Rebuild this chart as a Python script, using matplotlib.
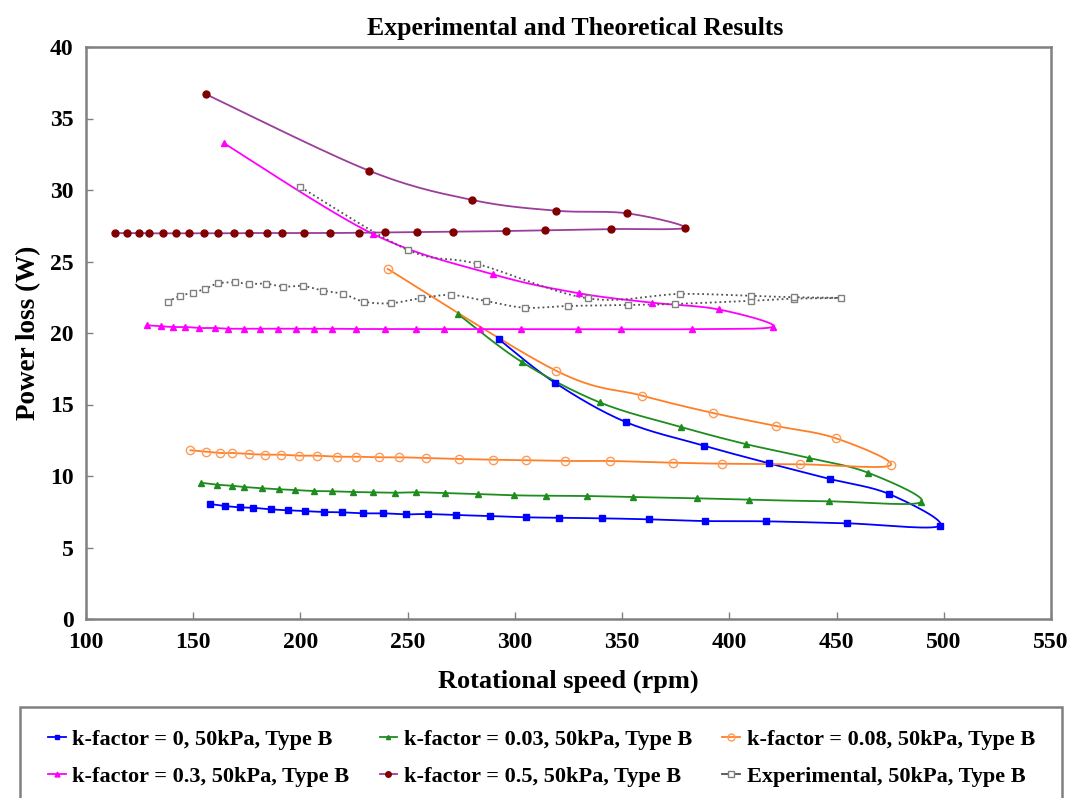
import numpy as np
import matplotlib
matplotlib.use("Agg")
import matplotlib.pyplot as plt
from matplotlib.lines import Line2D
from matplotlib.patches import Rectangle

plt.rcParams['font.family'] = ['Liberation Serif', 'DejaVu Serif']
plt.rcParams['font.weight'] = 'bold'

# ---- data (rotational speed in rpm, power loss in W); each series is a loop:
# lower branch (increasing speed) then upper branch (decreasing speed)
k0_x = [157.7, 164.8, 171.8, 177.8, 186.1, 194.2, 201.9, 211.0, 219.4, 229.4, 238.7, 249.4,
        259.4, 272.4, 288.6, 305.4, 320.6, 340.4, 362.6, 388.6, 417.0, 455.1, 498.2,
        474.5, 446.9, 418.4, 388.2, 351.6, 318.7, 292.6]
k0_y = [8.04, 7.90, 7.81, 7.78, 7.67, 7.60, 7.55, 7.48, 7.46, 7.39, 7.39, 7.32,
        7.34, 7.27, 7.20, 7.11, 7.08, 7.04, 6.97, 6.85, 6.83, 6.69, 6.52,
        8.74, 9.79, 10.89, 12.12, 13.78, 16.52, 19.56]

k003_x = [153.6, 161.1, 168.1, 173.9, 182.3, 190.0, 197.5, 206.3, 214.7, 224.7, 233.9, 244.1,
          254.1, 267.2, 282.8, 299.5, 314.7, 333.5, 355.1, 385.0, 409.1, 446.4, 489.6,
          464.7, 437.2, 408.0, 377.4, 339.5, 303.5, 273.7]
k003_y = [9.53, 9.39, 9.32, 9.23, 9.14, 9.07, 9.02, 8.95, 8.93, 8.88, 8.86, 8.83,
          8.86, 8.81, 8.74, 8.65, 8.62, 8.60, 8.53, 8.44, 8.34, 8.23, 8.18,
          10.23, 11.26, 12.22, 13.43, 15.15, 17.95, 21.30]

k008_x = [148.7, 155.8, 162.4, 168.3, 176.0, 183.7, 190.8, 199.3, 207.6, 217.1, 226.1, 236.4,
          246.0, 258.6, 273.8, 289.8, 305.1, 323.3, 344.3, 373.5, 396.8, 432.9, 475.2,
          449.7, 421.7, 392.2, 359.3, 319.1, 240.7]
k008_y = [11.80, 11.70, 11.61, 11.61, 11.54, 11.49, 11.49, 11.42, 11.42, 11.35, 11.35, 11.31,
          11.31, 11.26, 11.19, 11.14, 11.10, 11.05, 11.05, 10.93, 10.86, 10.82, 10.75,
          12.64, 13.50, 14.41, 15.62, 17.37, 24.48]

k03_x = [128.6, 134.8, 140.8, 146.0, 152.9, 160.0, 166.1, 173.9, 181.2, 189.6, 197.7, 206.3,
         214.7, 225.8, 239.5, 254.1, 266.8, 283.6, 302.8, 329.5, 349.5, 382.8, 420.5,
         395.0, 364.0, 329.8, 289.8, 233.9, 164.4]
k03_y = [20.54, 20.47, 20.42, 20.42, 20.35, 20.35, 20.30, 20.30, 20.30, 20.30, 20.30, 20.30,
         20.30, 20.28, 20.28, 20.27, 20.27, 20.27, 20.27, 20.27, 20.27, 20.27, 20.45,
         21.65, 22.12, 22.78, 24.10, 26.92, 33.27]

k05_x = [113.4, 119.3, 124.9, 129.4, 136.1, 142.2, 147.8, 154.8, 161.4, 169.0, 176.2, 184.3,
         191.4, 201.7, 214.0, 227.3, 239.2, 254.2, 271.2, 295.8, 313.9, 344.6, 379.2,
         352.3, 319.4, 280.2, 232.0, 155.8]
k05_y = [26.99, 26.99, 26.99, 26.97, 26.97, 26.97, 26.97, 26.97, 26.97, 26.97, 26.99, 26.99,
         26.99, 26.99, 26.99, 27.01, 27.03, 27.06, 27.08, 27.13, 27.18, 27.27, 27.36,
         28.37, 28.55, 29.30, 31.35, 36.71]

exp_x = [138.2, 143.7, 149.9, 155.4, 161.6, 169.4, 176.0, 184.1, 191.9, 201.2, 210.5, 219.9,
         229.7, 242.1, 256.0, 270.4, 286.4, 304.6, 324.8, 352.8, 374.6, 410.0, 430.0, 452.0,
         430.0, 410.0, 376.9, 334.1, 282.4, 250.2, 199.7]
exp_y = [22.19, 22.59, 22.82, 23.08, 23.47, 23.54, 23.43, 23.45, 23.24, 23.29, 22.96, 22.73,
         22.19, 22.08, 22.43, 22.66, 22.24, 21.77, 21.89, 21.96, 22.03, 22.25, 22.40, 22.45,
         22.50, 22.60, 22.73, 22.42, 24.83, 25.80, 30.23]

labels = ["k-factor = 0, 50kPa, Type B", "k-factor = 0.03, 50kPa, Type B",
          "k-factor = 0.08, 50kPa, Type B", "k-factor = 0.3, 50kPa, Type B",
          "k-factor = 0.5, 50kPa, Type B", "Experimental, 50kPa, Type B"]

x_ticks = [100, 150, 200, 250, 300, 350, 400, 450, 500, 550]
y_ticks = [0, 5, 10, 15, 20, 25, 30, 35, 40]


def smooth(x, y, n=16):
    pts = np.column_stack([x, y]).astype(float)
    P = np.vstack([pts[0], pts, pts[-1]])
    out = []
    t = np.linspace(0, 1, n, endpoint=False)[:, None]
    for i in range(1, len(P) - 2):
        p0, p1, p2, p3 = P[i - 1], P[i], P[i + 1], P[i + 2]
        seg = 0.5 * (2 * p1 + (-p0 + p2) * t + (2 * p0 - 5 * p1 + 4 * p2 - p3) * t ** 2
                     + (-p0 + 3 * p1 - 3 * p2 + p3) * t ** 3)
        out.append(seg)
    out.append(pts[-1:])
    s = np.vstack(out)
    return s[:, 0], s[:, 1]


styles = [
    dict(x=k0_x, y=k0_y, lc='#0000FF', ls='-', m='s', ms=4.5, mfc='#0000FF', mec='#0000FF'),
    dict(x=k003_x, y=k003_y, lc='#1E8C1E', ls='-', m='^', ms=4, mfc='#1E8C1E', mec='#1E8C1E'),
    dict(x=k008_x, y=k008_y, lc='#FF7F27', ls='-', m='o', ms=6, mfc='none', mec='#FF9A55'),
    dict(x=k03_x, y=k03_y, lc='#FF00FF', ls='-', m='^', ms=4.5, mfc='#FF00FF', mec='#FF00FF'),
    dict(x=k05_x, y=k05_y, lc='#9B3D9B', ls='-', m='o', ms=5, mfc='#800000', mec='#800000'),
    dict(x=exp_x, y=exp_y, lc='#505050', ls=':', m='s', ms=5, mfc='white', mec='#808080'),
]

fig = plt.figure(figsize=(10.71, 7.98), dpi=100)
ax = fig.add_axes([86 / 1071, 1 - 619 / 798, (1051 - 86) / 1071, (619 - 47) / 798])

handles = []
for st in styles:
    sx, sy = smooth(st['x'], st['y'])
    ax.plot(sx, sy, color=st['lc'], ls=st['ls'], lw=1.3, zorder=2)
    ax.plot(st['x'], st['y'], ls='none', marker=st['m'], ms=st['ms'],
            mfc=st['mfc'], mec=st['mec'], mew=1.0, zorder=3)
    handles.append(Line2D([], [], color=st['lc'], ls='-', lw=1.3, marker=st['m'],
                          ms=st['ms'] - 1, mfc=st['mfc'], mec=st['mec']))

ax.set_xlim(100, 550)
ax.set_ylim(0, 40)
ax.set_xticks(x_ticks)
ax.set_yticks(y_ticks)
ax.tick_params(direction='in', length=5, width=1, color='#808080', labelsize=17, pad=9)
for sp in ax.spines.values():
    sp.set_color('#808080')
    sp.set_linewidth(1.8)

ax.set_title("Experimental and Theoretical Results", fontsize=18.5, fontweight='bold', pad=9,
             x=0.507)
ax.set_xlabel("Rotational speed (rpm)", fontsize=19, fontweight='bold', labelpad=12)
ax.set_ylabel("Power loss (W)", fontsize=19.5, fontweight='bold', labelpad=6)

# legend frame
fig.patches.append(Rectangle((20 / 1071, -0.01), 1042 / 1071, (798 - 707) / 798 + 0.01,
                             transform=fig.transFigure, fill=False, ec='#808080', lw=1.8))
order = [0, 3, 1, 4, 2, 5]
leg = fig.legend([handles[i] for i in order], [labels[i] for i in order], ncol=3,
                 loc='center left', bbox_to_anchor=(28 / 1071, (798 - 758) / 798),
                 frameon=False, fontsize=16, handlelength=0.8, handletextpad=0.3,
                 columnspacing=1.35, labelspacing=0.75)

fig.savefig("out.png", dpi=100)
